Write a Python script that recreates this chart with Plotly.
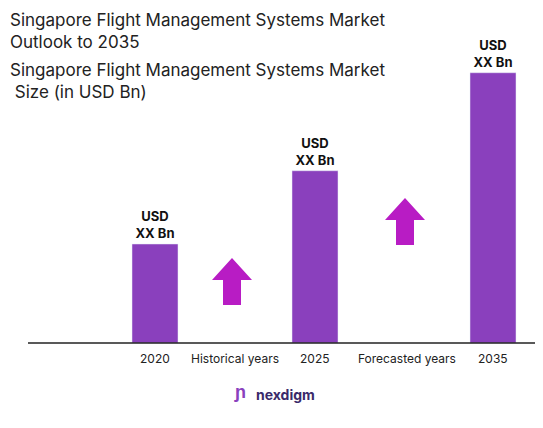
import plotly.graph_objects as go

categories = ["2020", "2025", "2035"]
values = [1.0, 1.74, 2.73]
bar_labels = ["<b>USD<br>XX Bn</b>"] * 3
period_labels = ["Historical years", "Forecasted years"]

x_pos = [155, 315, 493]
W, H = 543, 428
OFF = 8  # page body margin
px_per_unit = 99.0
base_px = 343

def yv(p):
    return (base_px - p) / px_per_unit

def px(x):
    return (x - OFF) / W

def py(y):
    return 1 - (y - OFF) / H

fig = go.Figure()
fig.add_bar(x=x_pos, y=values, width=46, marker_color="#8A40BD",
            text=bar_labels, textposition="outside",
            textfont=dict(family="Inter, Arial", size=13, color="#111"),
            cliponaxis=False)

ann = []
for xp, c in zip(x_pos, categories):
    ann.append(dict(x=xp, y=yv(358), text=c, showarrow=False,
                    font=dict(size=12, color="#222", family="Inter, Arial")))
for xp, t in zip([235, 407], period_labels):
    ann.append(dict(x=xp, y=yv(358), text=t, showarrow=False,
                    font=dict(size=12, color="#222", family="Inter, Arial")))
ann.append(dict(xref="paper", yref="paper", x=px(8), y=py(8), xanchor="left", yanchor="top",
                align="left", showarrow=False,
                text="Singapore Flight Management Systems Market<br>Outlook to 2035",
                font=dict(size=17, color="#222", family="Inter, Arial")))
ann.append(dict(xref="paper", yref="paper", x=px(8), y=py(58), xanchor="left", yanchor="top",
                align="left", showarrow=False,
                text="Singapore Flight Management Systems Market<br> Size (in USD Bn)",
                font=dict(size=17, color="#222", family="Inter, Arial")))
ann.append(dict(xref="paper", yref="paper", x=px(285), y=py(405), showarrow=False,
                text="<b>nexdigm</b>", font=dict(size=14, color="#3a2a6a", family="Inter, Arial")))
ann.append(dict(xref="paper", yref="paper", x=px(240), y=py(405), showarrow=False,
                text="<b>ɲ</b>", font=dict(size=18, color="#8A40BD")))

shapes = [dict(type="line", x0=28, x1=543, y0=0, y1=0, line=dict(color="#222", width=1.5))]
for cx, top in [(232, 258), (405, 198)]:
    pts = [(cx - 20, top + 22), (cx, top), (cx + 20, top + 22), (cx + 9, top + 22),
           (cx + 9, top + 47), (cx - 9, top + 47), (cx - 9, top + 22)]
    path = "M " + " L ".join(f"{x},{yv(y)}" for x, y in pts) + " Z"
    shapes.append(dict(type="path", path=path, fillcolor="#B81CC4", line=dict(width=0)))

fig.update_layout(width=W, height=H, margin=dict(l=0, r=0, t=0, b=0),
                  plot_bgcolor="white", paper_bgcolor="white", showlegend=False,
                  xaxis=dict(range=[OFF, W + OFF], visible=False),
                  yaxis=dict(range=[yv(H + OFF), yv(OFF)], visible=False),
                  annotations=ann, shapes=shapes)
fig.write_html("out.html")
